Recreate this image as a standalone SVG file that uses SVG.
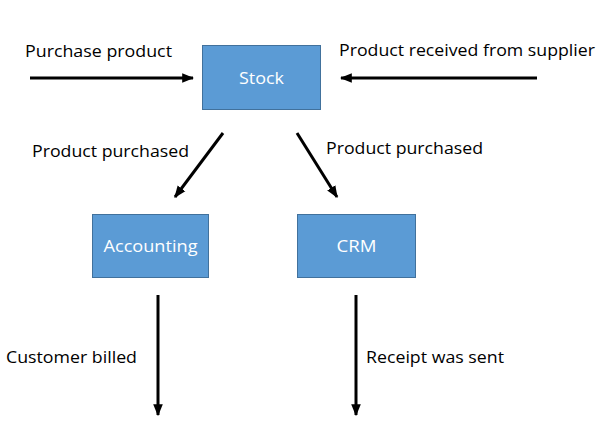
<svg xmlns="http://www.w3.org/2000/svg" width="614" height="446" viewBox="0 0 614 446">
<defs>
<marker id="ah" markerUnits="userSpaceOnUse" markerWidth="12" markerHeight="12" viewBox="0 0 10 10" refX="9" refY="5" orient="auto">
<path d="M0,1 L10,5 L0,9 Z" fill="#000"/>
</marker>
</defs>
<style>
.box{fill:#5B9BD5;stroke:#41719C;stroke-width:1}
.bt{font-family:"Open Sans","Liberation Sans",sans-serif;font-size:17px;fill:#fff;text-anchor:middle}
.lb{font-family:"Open Sans","Liberation Sans",sans-serif;font-size:17px;fill:#000}
.ln{stroke:#000;stroke-width:3;fill:none;marker-end:url(#ah)}
</style>
<rect width="614" height="446" fill="#fff"/>
<g id="connectors">
<line class="ln" x1="30" y1="78" x2="193" y2="78"/>
<line class="ln" x1="537" y1="78" x2="341" y2="78"/>
<line class="ln" x1="223" y1="133" x2="175" y2="197"/>
<line class="ln" x1="297" y1="133" x2="337" y2="197"/>
<line class="ln" x1="158" y1="295" x2="158" y2="415"/>
<line class="ln" x1="356" y1="295" x2="356" y2="415"/>
</g>
<g id="labels">
<text class="lb" x="25" y="57" textLength="147" lengthAdjust="spacingAndGlyphs">Purchase product</text>
<text class="lb" x="339" y="56" textLength="256" lengthAdjust="spacingAndGlyphs">Product received from supplier</text>
<text class="lb" x="32" y="157" textLength="157" lengthAdjust="spacingAndGlyphs">Product purchased</text>
<text class="lb" x="326" y="154" textLength="157" lengthAdjust="spacingAndGlyphs">Product purchased</text>
<text class="lb" x="6" y="363" textLength="131" lengthAdjust="spacingAndGlyphs">Customer billed</text>
<text class="lb" x="366" y="363" textLength="138" lengthAdjust="spacingAndGlyphs">Receipt was sent</text>
</g>
<g id="stock">
<rect class="box" x="202.5" y="45.5" width="118" height="64"/>
<text class="bt" x="261.5" y="84" textLength="45" lengthAdjust="spacingAndGlyphs">Stock</text>
</g>
<g id="accounting">
<rect class="box" x="92.5" y="214.5" width="116" height="63"/>
<text class="bt" x="150.5" y="252" textLength="94" lengthAdjust="spacingAndGlyphs">Accounting</text>
</g>
<g id="crm">
<rect class="box" x="297.5" y="214.5" width="118" height="63"/>
<text class="bt" x="356.5" y="252" textLength="40" lengthAdjust="spacingAndGlyphs">CRM</text>
</g>
</svg>
